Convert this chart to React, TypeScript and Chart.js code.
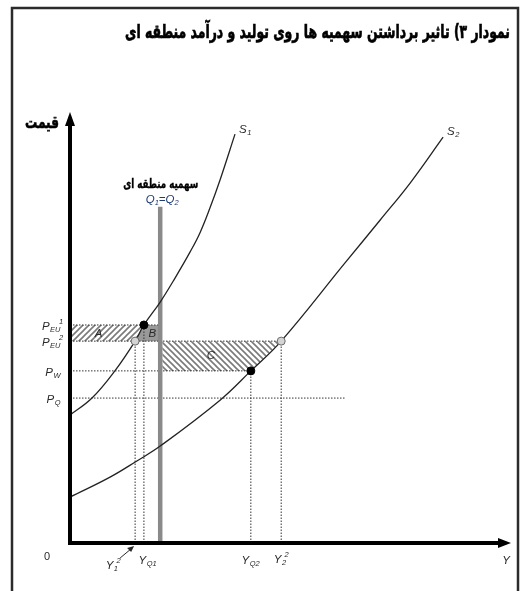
import React, { useEffect, useRef } from 'react';
import { Chart, registerables } from 'chart.js';

Chart.register(...registerables);

// price levels on the vertical axis: P_EU1, P_EU2, P_W, P_Q
const priceNames = ['EU', 'EU', 'W', 'Q'];
const priceSups = ['1', '2', '', ''];
const priceValues = [51.3, 47.5, 40.5, 34.1];

// quantities on the horizontal axis: Y1^2, YQ1, YQ2, Y2^2
const qtySubs = ['1', 'Q1', 'Q2', '2'];
const qtySups = ['2', '', '', '2'];
const qtyValues = [14.8, 16.8, 41.1, 48.0];

// regional quota Q1 = Q2
const quotaX = 20.5;
const quotaTop = 79.1;

// supply curves
const s1X = [0, 5.0, 10.2, 14.8, 16.8, 20.5, 23.9, 27.3, 29.5, 31.8, 34.1, 37.5];
const s1Y = [30.1, 34.1, 40.5, 47.5, 51.3, 56.7, 62.4, 68.5, 72.9, 78.8, 85.4, 96.2];
const s2X = [0, 9.1, 15.2, 20.5, 34.1, 41.1, 48.0, 62.5, 70.5, 77.3, 84.8];
const s2Y = [10.8, 15.5, 19.3, 22.8, 33.6, 40.5, 47.5, 65.9, 76.0, 84.7, 95.5];

// how far each dotted guide runs
const priceGuideEnds = [quotaX, 48.0, 41.1, 62.5];
const qtyGuideTops = [47.5, 51.3, 40.5, 47.5];

const areaLabels = ['A', 'B', 'C'];

const makeHatch = (dir: number) => {
  const c = document.createElement('canvas');
  c.width = 6;
  c.height = 6;
  const g = c.getContext('2d')!;
  g.fillStyle = '#ffffff';
  g.fillRect(0, 0, 6, 6);
  g.strokeStyle = '#7a7a7a';
  g.lineWidth = 1.6;
  g.beginPath();
  if (dir > 0) {
    g.moveTo(-1, 7); g.lineTo(7, -1);
    g.moveTo(-4, 4); g.lineTo(4, -4);
    g.moveTo(2, 10); g.lineTo(10, 2);
  } else {
    g.moveTo(-1, -1); g.lineTo(7, 7);
    g.moveTo(-4, 2); g.lineTo(4, 10);
    g.moveTo(2, -4); g.lineTo(10, 4);
  }
  g.stroke();
  return g.createPattern(c, 'repeat')!;
};

const BIG = 'italic 11.5px "Liberation Sans", Arial, sans-serif';
const SMALL = 'italic 7.5px "Liberation Sans", Arial, sans-serif';

const drawSym = (
  ctx: CanvasRenderingContext2D, x: number, y: number,
  base: string, sub: string, sup: string, align: 'left' | 'right' | 'center',
) => {
  ctx.font = BIG;
  const wb = ctx.measureText(base).width;
  ctx.font = SMALL;
  const ws = Math.max(ctx.measureText(sub).width, ctx.measureText(sup).width + (sub ? 2 : 0));
  const total = wb + ws + 1;
  let x0 = x;
  if (align === 'right') x0 = x - total;
  if (align === 'center') x0 = x - total / 2;
  ctx.textAlign = 'left';
  ctx.textBaseline = 'middle';
  ctx.font = BIG;
  ctx.fillText(base, x0, y);
  ctx.font = SMALL;
  if (sub) ctx.fillText(sub, x0 + wb + 0.5, y + 3);
  if (sup) ctx.fillText(sup, x0 + wb + (sub ? ctx.measureText(sub).width - 1 : 1), y - 5);
};

// draws rtl text squeezed to a given width, right edge at x, slightly emboldened
const fitText = (ctx: CanvasRenderingContext2D, text: string, xRight: number, y: number, width: number, heavy = 0) => {
  const w = ctx.measureText(text).width;
  ctx.save();
  ctx.translate(xRight, y);
  ctx.scale(width / w, 1);
  ctx.direction = 'rtl';
  ctx.textAlign = 'right';
  ctx.textBaseline = 'middle';
  ctx.fillText(text, 0, 0);
  if (heavy > 0) {
    ctx.lineWidth = heavy;
    ctx.strokeStyle = ctx.fillStyle as string;
    ctx.strokeText(text, 0, 0);
  }
  ctx.restore();
};

const decorations = {
  id: 'decorations',
  afterDatasetsDraw(chart: any) {
    const { ctx, chartArea } = chart;
    const L = chartArea.left;
    const B = chartArea.bottom;
    ctx.save();
    ctx.fillStyle = '#000';
    ctx.strokeStyle = '#000';
    // axes
    ctx.lineWidth = 4;
    ctx.beginPath();
    ctx.moveTo(L, B);
    ctx.lineTo(L, chartArea.top + 6);
    ctx.moveTo(L - 2, B);
    ctx.lineTo(chartArea.right - 6, B);
    ctx.stroke();
    ctx.beginPath();
    ctx.moveTo(L, chartArea.top - 6);
    ctx.lineTo(L - 5, chartArea.top + 8);
    ctx.lineTo(L + 5, chartArea.top + 8);
    ctx.closePath();
    ctx.fill();
    ctx.beginPath();
    ctx.moveTo(chartArea.right + 1, B);
    ctx.lineTo(chartArea.right - 12, B - 5);
    ctx.lineTo(chartArea.right - 12, B + 5);
    ctx.closePath();
    ctx.fill();
    ctx.restore();
  },
  afterDraw(chart: any) {
    const { ctx, chartArea, scales } = chart;
    const xs = scales.x;
    const ys = scales.y;
    const B = chartArea.bottom;
    ctx.save();
    // frame
    ctx.strokeStyle = '#2b2b2b';
    ctx.lineWidth = 2.5;
    ctx.strokeRect(12, 8, 506, 600);

    // title and axis caption
    ctx.fillStyle = '#000';
    ctx.font = 'bold 19px "DejaVu Sans", sans-serif';
    fitText(ctx, 'نمودار ۳) تاثیر برداشتن سهمیه ها روی تولید و درآمد منطقه ای', 510, 33, 385, 0.7);
    ctx.font = 'bold 17px "DejaVu Sans", sans-serif';
    fitText(ctx, 'قیمت', 59, 124, 34, 0.6);
    const qx = xs.getPixelForValue(quotaX);
    const qTop = ys.getPixelForValue(quotaTop);
    ctx.font = 'bold 13px "DejaVu Sans", sans-serif';
    fitText(ctx, 'سهمیه منطقه ای', qx + 38, qTop - 22, 75, 0.4);

    // Q1=Q2
    ctx.fillStyle = '#1f3b70';
    const parts: [string, boolean][] = [['Q', false], ['1', true], ['=', false], ['Q', false], ['2', true]];
    let tw = 0;
    parts.forEach(([t, s]) => { ctx.font = s ? SMALL : BIG; tw += ctx.measureText(t).width; });
    let cx = qx + 2 - tw / 2;
    ctx.textAlign = 'left';
    ctx.textBaseline = 'middle';
    parts.forEach(([t, s]) => {
      ctx.font = s ? SMALL : BIG;
      ctx.fillText(t, cx, qTop - 7 + (s ? 3 : 0));
      cx += ctx.measureText(t).width;
    });

    ctx.fillStyle = '#2a2a2a';
    // curve labels
    const s1End = [xs.getPixelForValue(s1X[s1X.length - 1]), ys.getPixelForValue(s1Y[s1Y.length - 1])];
    const s2End = [xs.getPixelForValue(s2X[s2X.length - 1]), ys.getPixelForValue(s2Y[s2Y.length - 1])];
    drawSym(ctx, s1End[0] + 4, s1End[1] - 4, 'S', '1', '', 'left');
    drawSym(ctx, s2End[0] + 4, s2End[1] - 5, 'S', '2', '', 'left');

    // price tick labels
    priceValues.forEach((v, i) => {
      drawSym(ctx, 61, ys.getPixelForValue(v) + 2, 'P', priceNames[i], priceSups[i], 'right');
    });

    // quantity tick labels
    const qOffsets = [-22, 4, 0, 0];
    const qDy = [23, 18, 18, 17];
    qtyValues.forEach((v, i) => {
      const px = xs.getPixelForValue(v) + qOffsets[i];
      drawSym(ctx, px, B + qDy[i], 'Y', qtySubs[i], qtySups[i], 'center');
    });
    // small arrow from Y1^2 to its guide
    const ax = xs.getPixelForValue(qtyValues[0]);
    ctx.strokeStyle = '#2a2a2a';
    ctx.lineWidth = 1;
    ctx.beginPath();
    ctx.moveTo(ax - 15, B + 15);
    ctx.lineTo(ax - 3, B + 5);
    ctx.stroke();
    ctx.beginPath();
    ctx.moveTo(ax - 1, B + 3);
    ctx.lineTo(ax - 8, B + 5);
    ctx.lineTo(ax - 4, B + 9);
    ctx.closePath();
    ctx.fill();

    ctx.font = '11px "Liberation Sans", sans-serif';
    ctx.textAlign = 'center';
    ctx.fillText('0', 47, B + 14);
    ctx.font = BIG;
    ctx.fillText('Y', chartArea.right - 4, B + 18);

    // area labels
    const midTop = (ys.getPixelForValue(priceValues[0]) + ys.getPixelForValue(priceValues[1])) / 2;
    const midC = (ys.getPixelForValue(priceValues[1]) + ys.getPixelForValue(priceValues[2])) / 2;
    ctx.fillText(areaLabels[0], xs.getPixelForValue(6.5), midTop + 1);
    ctx.fillText(areaLabels[1], xs.getPixelForValue(18.7), midTop + 1);
    ctx.fillText(areaLabels[2], xs.getPixelForValue(32.0), midC);
    ctx.restore();
  },
};

const App: React.FC = () => {
  const canvasRef = useRef<HTMLCanvasElement>(null);
  const chartRef = useRef<Chart | null>(null);

  useEffect(() => {
    if (!canvasRef.current) return;
    if (chartRef.current) chartRef.current.destroy();
    const ctx = canvasRef.current.getContext('2d');
    if (!ctx) return;

    const [pEU1, pEU2, pW] = priceValues;
    const [y12, yQ1, yQ2, y22] = qtyValues;

    const dotted = {
      borderColor: '#333',
      borderWidth: 1,
      borderDash: [1.5, 1.5],
      pointRadius: 0,
      fill: false,
      order: 6,
    };

    const guides: any[] = [];
    priceValues.forEach((v, i) => {
      guides.push({ ...dotted, data: [{ x: 0, y: v }, { x: priceGuideEnds[i], y: v }] });
    });
    qtyValues.forEach((v, i) => {
      guides.push({ ...dotted, data: [{ x: v, y: 0 }, { x: v, y: qtyGuideTops[i] }] });
    });

    chartRef.current = new Chart(ctx, {
      type: 'line',
      data: {
        datasets: [
          {
            data: [
              { x: y12, y: pEU2 }, { x: yQ1, y: pEU1 },
              { x: yQ2, y: pW }, { x: y22, y: pEU2 },
            ],
            showLine: false,
            pointRadius: 4,
            pointBackgroundColor: ['#d4d4d4', '#000', '#000', '#d4d4d4'],
            pointBorderColor: ['#6a6a6a', '#000', '#000', '#6a6a6a'],
            pointBorderWidth: 1,
            order: 1,
          },
          {
            data: s1X.map((x, i) => ({ x, y: s1Y[i] })),
            borderColor: '#222',
            borderWidth: 1.3,
            pointRadius: 0,
            tension: 0.4,
            fill: false,
            order: 3,
          },
          {
            data: s2X.map((x, i) => ({ x, y: s2Y[i] })),
            borderColor: '#222',
            borderWidth: 1.3,
            pointRadius: 0,
            tension: 0.4,
            fill: false,
            order: 3,
          },
          {
            data: [{ x: quotaX, y: 0 }, { x: quotaX, y: quotaTop }],
            borderColor: '#8a8a8a',
            borderWidth: 4.5,
            borderCapStyle: 'butt',
            pointRadius: 0,
            fill: false,
            order: 4,
          },
          ...guides,
          {
            data: [
              { x: 0, y: pEU2 }, { x: 0, y: pEU1 }, { x: yQ1, y: pEU1 },
              { x: y12, y: pEU2 }, { x: 0, y: pEU2 },
            ],
            borderWidth: 0,
            pointRadius: 0,
            backgroundColor: makeHatch(1),
            fill: 'shape',
            order: 10,
          },
          {
            data: [
              { x: y12, y: pEU2 }, { x: yQ1, y: pEU1 }, { x: quotaX, y: pEU1 },
              { x: quotaX, y: pEU2 }, { x: y12, y: pEU2 },
            ],
            borderWidth: 0,
            pointRadius: 0,
            backgroundColor: '#999999',
            fill: 'shape',
            order: 10,
          },
          {
            data: [
              { x: quotaX + 0.5, y: pEU2 }, { x: y22, y: pEU2 }, { x: yQ2, y: pW },
              { x: quotaX + 0.5, y: pW }, { x: quotaX + 0.5, y: pEU2 },
            ],
            borderWidth: 0,
            pointRadius: 0,
            backgroundColor: makeHatch(-1),
            fill: 'shape',
            order: 10,
          },
        ],
      },
      options: {
        responsive: true,
        maintainAspectRatio: false,
        animation: false,
        layout: { padding: { left: 70, right: 15, top: 118, bottom: 48 } },
        plugins: {
          legend: { display: false },
          tooltip: { enabled: false },
          title: { display: false },
        },
        scales: {
          x: { type: 'linear', min: 0, max: 100, display: false },
          y: { type: 'linear', min: 0, max: 100, display: false },
        },
      } as any,
      plugins: [decorations],
    } as any);

    return () => {
      if (chartRef.current) {
        chartRef.current.destroy();
        chartRef.current = null;
      }
    };
  }, []);

  return (
    <div style={{ position: 'fixed', left: 0, top: 0, width: 525, height: 591, background: '#fff' }}>
      <canvas ref={canvasRef}></canvas>
    </div>
  );
};

export default App;
